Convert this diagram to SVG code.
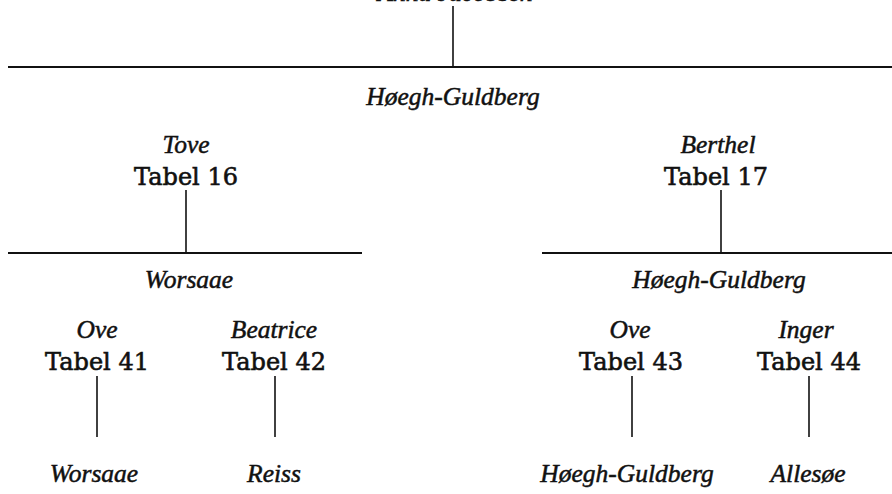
<svg xmlns="http://www.w3.org/2000/svg" width="892" height="494" viewBox="0 0 892 494">
<style>
.it{font-family:"Liberation Serif","Times New Roman",serif;font-style:italic;font-size:25.5px;fill:#111;stroke:#111;stroke-width:0.5;text-anchor:middle}
.tb{font-family:"DejaVu Serif","Liberation Serif",serif;font-size:24px;fill:#111;stroke:#111;stroke-width:0.6;text-anchor:middle}
.ln{stroke:#111;stroke-width:1.6;fill:none}
.hl{stroke:#111;stroke-width:2;fill:none}
</style>
<rect width="892" height="494" fill="#fff"/>
<g id="connectors">
<line class="ln" x1="453" y1="6" x2="453" y2="67"/>
<line class="hl" x1="8" y1="67" x2="892" y2="67"/>
<line class="ln" x1="186" y1="190" x2="186" y2="253"/>
<line class="hl" x1="8" y1="253" x2="362" y2="253"/>
<line class="ln" x1="721" y1="190" x2="721" y2="253"/>
<line class="hl" x1="542" y1="253" x2="892" y2="253"/>
<line class="ln" x1="97" y1="376" x2="97" y2="437"/>
<line class="ln" x1="275" y1="376" x2="275" y2="437"/>
<line class="ln" x1="632" y1="376" x2="632" y2="437"/>
<line class="ln" x1="809" y1="376" x2="809" y2="437"/>
</g>
<g id="top"><text class="it" x="455" y="1">Anna Jacobsen</text></g>
<g id="family1"><text class="it" x="453" y="105">Høegh-Guldberg</text></g>
<g id="tabel16"><text class="it" x="186" y="153">Tove</text><text class="tb" x="186" y="185">Tabel 16</text></g>
<g id="tabel17"><text class="it" x="718" y="153">Berthel</text><text class="tb" x="716" y="185">Tabel 17</text></g>
<g id="family16"><text class="it" x="189" y="288">Worsaae</text></g>
<g id="family17"><text class="it" x="719" y="288">Høegh-Guldberg</text></g>
<g id="tabel41"><text class="it" x="97" y="338">Ove</text><text class="tb" x="97" y="370">Tabel 41</text></g>
<g id="tabel42"><text class="it" x="274" y="338">Beatrice</text><text class="tb" x="274" y="370">Tabel 42</text></g>
<g id="tabel43"><text class="it" x="630" y="338">Ove</text><text class="tb" x="631" y="370">Tabel 43</text></g>
<g id="tabel44"><text class="it" x="806" y="338">Inger</text><text class="tb" x="809" y="370">Tabel 44</text></g>
<g id="family41"><text class="it" x="94" y="482">Worsaae</text></g>
<g id="family42"><text class="it" x="274" y="482">Reiss</text></g>
<g id="family43"><text class="it" x="627" y="482">Høegh-Guldberg</text></g>
<g id="family44"><text class="it" x="808" y="482">Allesøe</text></g>
</svg>
